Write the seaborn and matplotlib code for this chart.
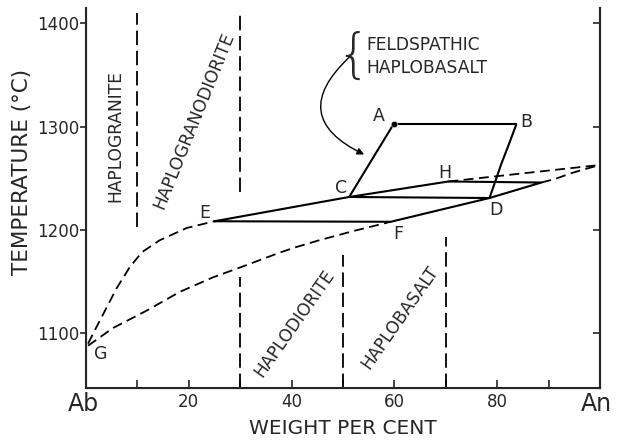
import matplotlib
matplotlib.use("Agg")
import matplotlib.pyplot as plt
import matplotlib.transforms as mtransforms
import pandas as pd
import seaborn as sns

# ---------------- data ----------------
# rock-type boundaries (weight % An) and their vertical extent (deg C)
boundary_x = [10, 30, 30, 50, 70]
boundary_lo = [1203, 1237, 1047, 1047, 1047]
boundary_hi = [1410, 1412, 1155, 1176, 1193]

field_names = ["HAPLOGRANITE", "HAPLOGRANODIORITE", "HAPLODIORITE", "HAPLOBASALT"]
field_x = [5.8, 21.0, 40.5, 61.0]
field_t = [1291, 1306, 1110, 1115]
field_rot = [90, 68, 55, 55]

# labelled points
pt_names = ["A", "B", "C", "D", "E", "F", "G", "H"]
pt_x = [59.9, 83.7, 51.2, 78.5, 25.0, 59.3, 0.4, 70.5]
pt_t = [1303, 1303, 1232, 1231, 1208.5, 1208, 1088, 1247]
lab_x = [57.0, 85.6, 49.6, 79.8, 23.1, 60.7, 2.9, 69.8]
lab_t = [1310, 1305, 1241, 1219, 1216.5, 1196, 1080, 1255]

# solid paths
path_EC_H_D_F_x = [25.0, 51.2, 70.5, 88.6, 78.5, 59.3, 25.0]
path_EC_H_D_F_t = [1208.5, 1232, 1247, 1246, 1231, 1208, 1208.5]
path_AC_x = [59.9, 51.2]
path_AC_t = [1303, 1232]
path_AB_x = [59.9, 83.7]
path_AB_t = [1303, 1303]
path_CD_x = [51.2, 78.5]
path_CD_t = [1232, 1231]
path_BD_x = [83.7, 82.2, 80.8, 79.7, 78.5]
path_BD_t = [1302, 1282, 1264, 1248, 1231]

# dashed curves
liq_left_x = [0.4, 1.4, 3.7, 6.0, 8.5, 10.9, 14.3, 19.6, 25.0]
liq_left_t = [1090, 1100, 1122, 1144, 1164, 1178.6, 1190, 1202, 1208.5]
sol_left_x = [0.4, 5.2, 11.8, 18.2, 24.6, 31.2, 37.6, 40.9, 45.3, 52.0, 59.3]
sol_left_t = [1088, 1105, 1122, 1140, 1154, 1166, 1178, 1183.5, 1190, 1199, 1208]
liq_right_x = [70.5, 100.0]
liq_right_t = [1247, 1263]
sol_right_x = [88.6, 91.3, 94.4, 97.1, 100.0]
sol_right_t = [1246, 1249.5, 1255, 1259, 1263]

xtick_vals = [10, 20, 30, 40, 50, 60, 70, 80, 90]
xtick_labels = ["", "20", "", "40", "", "60", "", "80", ""]
ytick_vals = [1100, 1200, 1300, 1400]
ytick_labels = ["1100", "1200", "1300", "1400"]

# ---------------- figure ----------------
sns.set_style("ticks")
plt.rcParams["font.family"] = ["DejaVu Sans"]

fig = plt.figure(figsize=(6.17, 4.41), dpi=100)
ax = fig.add_axes([0.1394, 0.120, 0.833, 0.862])

solid = dict(color="black", lw=1.5, sort=False, estimator=None, ax=ax, legend=False)
curve_dash = dict(color="black", lw=1.3, sort=False, estimator=None, ax=ax,
                  legend=False, linestyle=(0, (5.5, 3.0)))
vert_dash = dict(color="black", lw=1.3, sort=False, estimator=None, ax=ax,
                 legend=False, linestyle=(0, (8.0, 3.2)))

for xs, ts in [(path_EC_H_D_F_x, path_EC_H_D_F_t), (path_AC_x, path_AC_t),
               (path_AB_x, path_AB_t), (path_CD_x, path_CD_t), (path_BD_x, path_BD_t)]:
    sns.lineplot(data=pd.DataFrame({"x": xs, "t": ts}), x="x", y="t", **solid)

for xs, ts in [(liq_left_x, liq_left_t), (sol_left_x, sol_left_t),
               (liq_right_x, liq_right_t), (sol_right_x, sol_right_t)]:
    sns.lineplot(data=pd.DataFrame({"x": xs, "t": ts}), x="x", y="t", **curve_dash)

for bx, lo, hi in zip(boundary_x, boundary_lo, boundary_hi):
    sns.lineplot(data=pd.DataFrame({"x": [bx, bx], "t": [lo, hi]}), x="x", y="t", **vert_dash)

# point A marker
sns.scatterplot(x=[pt_x[0]], y=[pt_t[0]], color="black", s=22, ax=ax, legend=False, zorder=5)

for name, lx, lt in zip(pt_names, lab_x, lab_t):
    ax.text(lx, lt, name, fontsize=12.5, ha="center", va="center")

for name, fx, ft, rot in zip(field_names, field_x, field_t, field_rot):
    ax.text(fx, ft, name, fontsize=12.3, ha="center", va="center", rotation=rot,
            rotation_mode="anchor")

# feldspathic haplobasalt note
ax.text(54.5, 1368, "FELDSPATHIC\nHAPLOBASALT", fontsize=12.3, ha="left", va="center",
        linespacing=1.3)
ax.text(52.0, 1367, "{", fontsize=38, ha="center", va="center", fontweight=200)
ax.annotate("", xy=(54.6, 1272), xytext=(51.6, 1369),
            arrowprops=dict(arrowstyle="-|>", color="black", lw=1.0,
                            connectionstyle="arc3,rad=0.75", mutation_scale=10))

# axes styling
ax.set_xlim(0, 100)
ax.set_ylim(1047, 1415)
ax.set_xticks(xtick_vals)
ax.set_xticklabels(xtick_labels, fontsize=12)
ax.set_yticks(ytick_vals)
ax.set_yticklabels(ytick_labels, fontsize=12)
ax.tick_params(axis="x", direction="in", length=6, width=1.2, pad=3.5)
ax.tick_params(axis="y", direction="out", length=4, width=1.2, pad=1)
for s in ["left", "right", "bottom"]:
    ax.spines[s].set_linewidth(1.5)
ax.spines["top"].set_visible(False)
ax.spines["right"].set_visible(True)

ax2 = ax.twinx()
ax2.set_ylim(ax.get_ylim())
ax2.set_yticks(ytick_vals)
ax2.set_yticklabels([])
ax2.tick_params(axis="y", direction="in", length=5, width=1.2)
ax2.spines["top"].set_visible(False)
ax2.spines["right"].set_linewidth(1.5)

ax.set_xlabel("WEIGHT PER CENT", fontsize=14.5)
ax.xaxis.set_label_coords(0.5, -0.082)
ax.set_ylabel("TEMPERATURE (°C)", fontsize=15.5)
ax.yaxis.set_label_coords(-0.105, 0.568)

trans = mtransforms.blended_transform_factory(ax.transData, ax.transAxes)
ax.text(-0.6, -0.042, "Ab", fontsize=17, ha="center", va="center", transform=trans)
ax.text(99.3, -0.042, "An", fontsize=17, ha="center", va="center", transform=trans)

fig.savefig("out.png", dpi=100)
